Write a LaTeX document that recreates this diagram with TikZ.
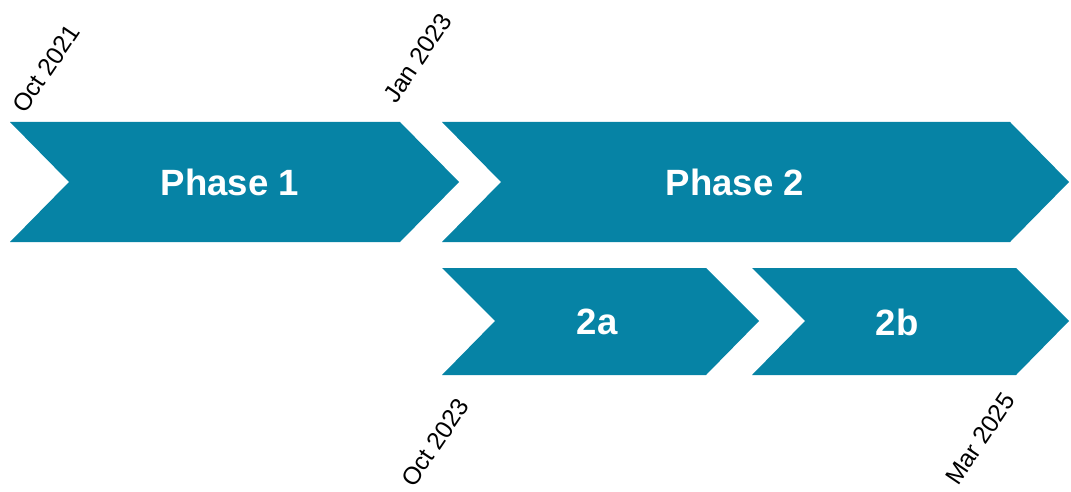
\documentclass[tikz,border=0pt]{standalone}
\usepackage{fontspec}
\setmainfont{Liberation Sans}
\definecolor{phaseblue}{RGB}{6,131,165}
\tikzset{
  chev/.style={fill=phaseblue},
  phasetext/.style={text=white,font=\bfseries\fontsize{26}{30}\selectfont},
  datetext/.style={font=\fontsize{17.5}{20}\selectfont,rotate=56,anchor=base west,inner sep=0pt}
}
\begin{document}
\begin{tikzpicture}[x=0.025cm,y=-0.025cm]
\useasboundingbox (0,0) rectangle (1071,492);
\fill[chev] (10,122) -- (400,122) -- (459,182) -- (400,242) -- (10,242) -- (69,182) -- cycle;
\fill[chev] (442,122) -- (1010,122) -- (1069,182) -- (1010,242) -- (442,242) -- (501,182) -- cycle;
\fill[chev] (442,268) -- (706,268) -- (759,321) -- (706,375) -- (442,375) -- (495,321) -- cycle;
\fill[chev] (752,268) -- (1016,268) -- (1069,321) -- (1016,375) -- (752,375) -- (805,321) -- cycle;
\node[phasetext] (p1) at (230,182) {Phase 1};
\node[phasetext] (p2) at (735,182) {Phase 2};
\node[phasetext] (p2a) at (597,322) {2a};
\node[phasetext] (p2b) at (897,322) {2b};
\node[datetext] (d1) at (25,115) {Oct 2021};
\node[datetext] (d2) at (396,105) {Jan 2023};
\node[datetext] (d3) at (414,489) {Oct 2023};
\node[datetext] (d4) at (958,487) {Mar 2025};
\end{tikzpicture}
\end{document}
